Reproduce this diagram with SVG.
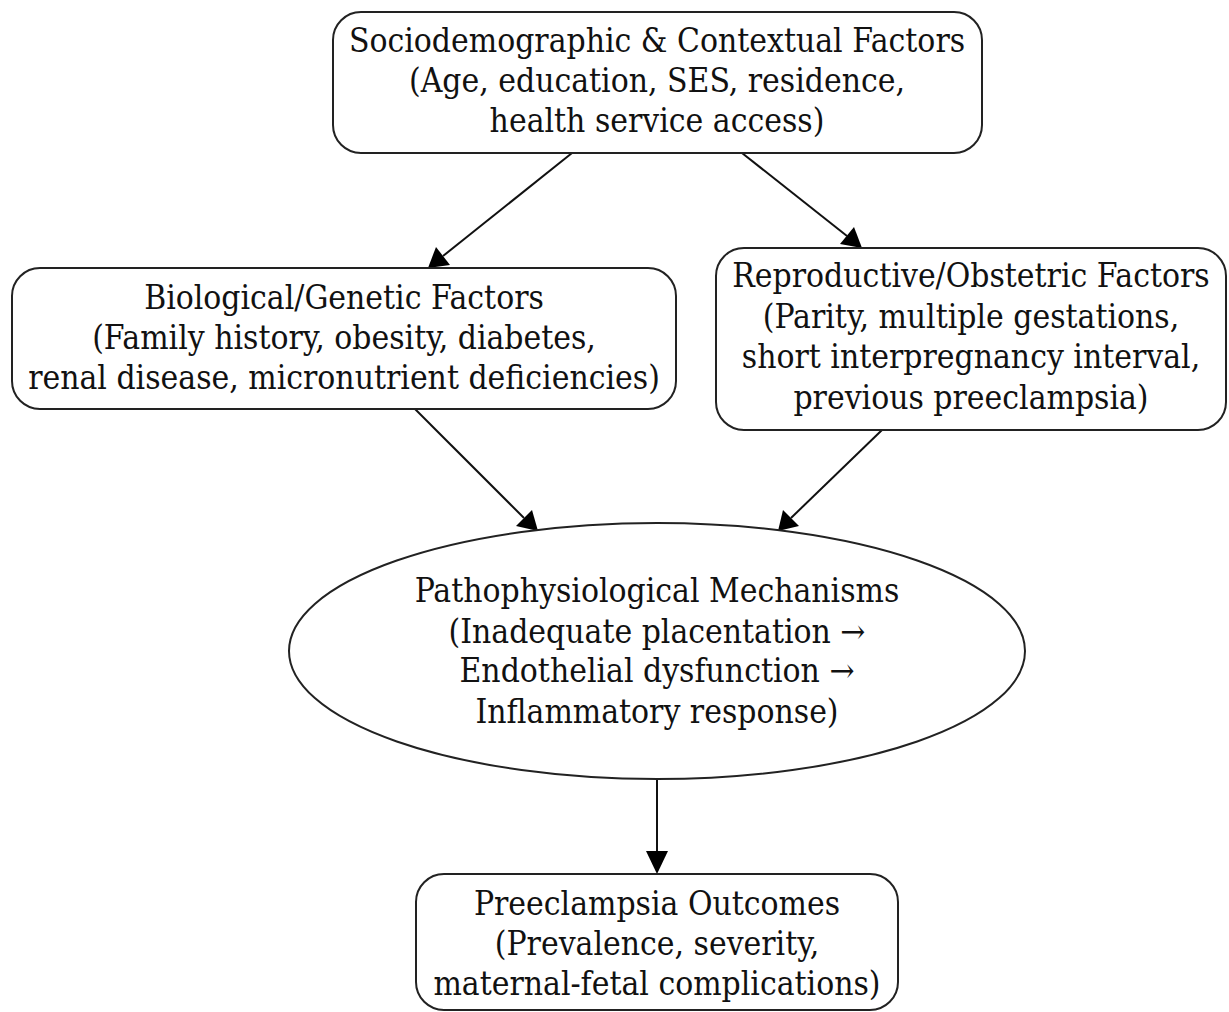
<svg xmlns="http://www.w3.org/2000/svg" width="1229" height="1012" viewBox="0 0 1229 1012">
<defs>
<style>
.n{fill:#fff;stroke:#222;stroke-width:2}
.t{font-family:"DejaVu Serif Condensed","DejaVu Serif",serif;font-stretch:condensed;font-size:33.3px;text-anchor:middle;fill:#111}
.e{stroke:#111;stroke-width:2;fill:none}
.h{fill:#000}
</style>
</defs>
<rect width="1229" height="1012" fill="#fff"/>
<g id="connectors">
<line class="e" x1="572" y1="153" x2="443" y2="256"/>
<polygon class="h" points="428,268 436,247 450,265"/>
<line class="e" x1="742" y1="153" x2="847" y2="236"/>
<polygon class="h" points="862,248 840,244 854,227"/>
<line class="e" x1="415" y1="409" x2="524" y2="518"/>
<polygon class="h" points="538,531 516,526 532,510"/>
<line class="e" x1="882" y1="430" x2="791" y2="518"/>
<polygon class="h" points="778,531 783,510 799,526"/>
<line class="e" x1="657" y1="779" x2="657" y2="854"/>
<polygon class="h" points="657,874 646,851 668,851"/>
</g>
<g id="n1">
<rect class="n" x="333" y="12" width="649" height="141" rx="28"/>
<text class="t" x="657" y="52">Sociodemographic &amp; Contextual Factors</text>
<text class="t" x="657" y="92">(Age, education, SES, residence,</text>
<text class="t" x="657" y="132">health service access)</text>
</g>
<g id="n2">
<rect class="n" x="12" y="268" width="664" height="141" rx="28"/>
<text class="t" x="344" y="309">Biological/Genetic Factors</text>
<text class="t" x="344" y="349">(Family history, obesity, diabetes,</text>
<text class="t" x="344" y="389">renal disease, micronutrient deficiencies)</text>
</g>
<g id="n3">
<rect class="n" x="716" y="248" width="510" height="182" rx="28"/>
<text class="t" x="971" y="287">Reproductive/Obstetric Factors</text>
<text class="t" x="971" y="328">(Parity, multiple gestations,</text>
<text class="t" x="971" y="368">short interpregnancy interval,</text>
<text class="t" x="971" y="409">previous preeclampsia)</text>
</g>
<g id="n4">
<ellipse class="n" cx="657" cy="651" rx="368" ry="128"/>
<text class="t" x="657" y="602">Pathophysiological Mechanisms</text>
<text class="t" x="657" y="643">(Inadequate placentation →</text>
<text class="t" x="657" y="682">Endothelial dysfunction →</text>
<text class="t" x="657" y="723">Inflammatory response)</text>
</g>
<g id="n5">
<rect class="n" x="416" y="874" width="482" height="136" rx="28"/>
<text class="t" x="657" y="915">Preeclampsia Outcomes</text>
<text class="t" x="657" y="955">(Prevalence, severity,</text>
<text class="t" x="657" y="995">maternal-fetal complications)</text>
</g>
</svg>
